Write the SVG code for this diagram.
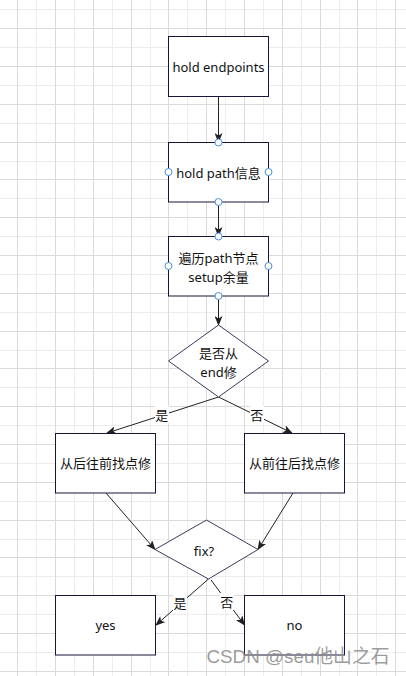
<svg xmlns="http://www.w3.org/2000/svg" width="406" height="676" viewBox="0 0 406 676">
<style>
.gl{stroke:#ededed;stroke-width:1;fill:none}
.gd{stroke:#dadada;stroke-width:1;fill:none}
.box{fill:#ffffff;stroke:#16163a;stroke-width:1}
.dia{fill:#ffffff;stroke:#3a3a5a;stroke-width:1}
.t{font-family:"Noto Sans","Noto Sans CJK SC",sans-serif;font-size:13px;fill:#111111;text-anchor:middle}
.e{stroke:#222222;stroke-width:1;fill:none;marker-end:url(#arr)}
.h{fill:#ffffff;stroke:#4a8fe0;stroke-width:1}
.lb{fill:#ffffff}
</style>
<defs>
<marker id="arr" viewBox="0 0 10 8" refX="9" refY="4" markerWidth="10" markerHeight="8" markerUnits="userSpaceOnUse" orient="auto">
<path d="M0,0 L10,4 L0,8 L2.5,4 Z" fill="#222222"/>
</marker>
</defs>
<rect width="406" height="676" fill="#ffffff"/>
<g id="grid">
<path class="gl" d="M36.5 0V676M74.5 0V676M112.5 0V676M150.5 0V676M187.5 0V676M225.5 0V676M263.5 0V676M301.5 0V676M339.5 0V676M376.5 0V676M0 9.5H406M0 47.5H406M0 85.5H406M0 123.5H406M0 161.5H406M0 198.5H406M0 236.5H406M0 274.5H406M0 312.5H406M0 350.5H406M0 387.5H406M0 425.5H406M0 463.5H406M0 501.5H406M0 539.5H406M0 576.5H406M0 614.5H406M0 652.5H406"/>
<path class="gd" d="M17.5 0V676M55.5 0V676M93.5 0V676M131.5 0V676M168.5 0V676M206.5 0V676M244.5 0V676M282.5 0V676M320.5 0V676M357.5 0V676M395.5 0V676M0 28.5H406M0 66.5H406M0 104.5H406M0 142.5H406M0 179.5H406M0 217.5H406M0 255.5H406M0 293.5H406M0 331.5H406M0 368.5H406M0 406.5H406M0 444.5H406M0 482.5H406M0 520.5H406M0 557.5H406M0 595.5H406M0 633.5H406M0 671.5H406"/>
</g>
<g id="connectors">
<path class="e" d="M218.5 96.5V142"/>
<path class="e" d="M218.5 202V236"/>
<path class="e" d="M218.5 296V325"/>
<path class="e" d="M218.5 397L107 433"/>
<path class="e" d="M218.5 397L292 433"/>
<path class="e" d="M106 493L155 549.5"/>
<path class="e" d="M293 493L258 549.5"/>
<path class="e" d="M208.5 579L156 625"/>
<path class="e" d="M211 580L244.5 625"/>
<rect class="lb" x="155" y="406" width="14" height="17"/>
<text class="t" x="161.7" y="420">是</text>
<rect class="lb" x="250" y="406" width="14" height="17"/>
<text class="t" x="256.7" y="420">否</text>
<rect class="lb" x="173" y="594" width="14" height="17"/>
<text class="t" x="180" y="608">是</text>
<rect class="lb" x="220" y="593" width="14" height="17"/>
<text class="t" x="226.7" y="607">否</text>
</g>
<g id="n1">
<rect class="box" x="168.5" y="36.5" width="100" height="60"/>
<text class="t" x="218.5" y="72">hold endpoints</text>
</g>
<g id="n2">
<rect class="box" x="168.5" y="142.5" width="100" height="59.5"/>
<text class="t" x="218.5" y="177.5">hold path信息</text>
<circle class="h" cx="218.5" cy="142.5" r="3.5"/>
<circle class="h" cx="168.5" cy="172" r="3.5"/>
<circle class="h" cx="268.5" cy="172" r="3.5"/>
<circle class="h" cx="218.5" cy="202" r="3.5"/>
</g>
<g id="n3">
<rect class="box" x="168.5" y="236.5" width="100" height="59.5"/>
<text class="t" x="218.5" y="262.5">遍历path节点</text>
<text class="t" x="218.5" y="282">setup余量</text>
<circle class="h" cx="218.5" cy="236.5" r="3.5"/>
<circle class="h" cx="168.5" cy="266" r="3.5"/>
<circle class="h" cx="268.5" cy="266" r="3.5"/>
<circle class="h" cx="218.5" cy="296" r="3.5"/>
</g>
<g id="n4">
<path class="dia" d="M218.5 325L268.5 361L218.5 397L168.5 361Z"/>
<text class="t" x="218.5" y="357.5">是否从</text>
<text class="t" x="218.5" y="377">end修</text>
</g>
<g id="n5">
<rect class="box" x="55.5" y="433.5" width="100" height="59.5"/>
<text class="t" x="105.5" y="467.5">从后往前找点修</text>
</g>
<g id="n6">
<rect class="box" x="244.5" y="433.5" width="100" height="59.5"/>
<text class="t" x="294.5" y="467.5">从前往后找点修</text>
</g>
<g id="n7">
<path class="dia" d="M206.5 520L258 549.5L208.5 579L155 549.5Z"/>
<text class="t" x="204" y="556">fix?</text>
</g>
<g id="n8">
<rect class="box" x="55.5" y="595.5" width="100" height="59.5"/>
<text class="t" x="105.5" y="630">yes</text>
</g>
<g id="n9">
<rect class="box" x="244.5" y="595.5" width="100" height="59.5"/>
<text class="t" x="294.5" y="630">no</text>
</g>
<text x="298" y="663" font-family="'Liberation Sans','Noto Sans CJK SC',sans-serif" font-size="19" fill="#8a8a8a" fill-opacity="0.85" text-anchor="middle" textLength="183" lengthAdjust="spacingAndGlyphs">CSDN @seu他山之石</text>
</svg>
